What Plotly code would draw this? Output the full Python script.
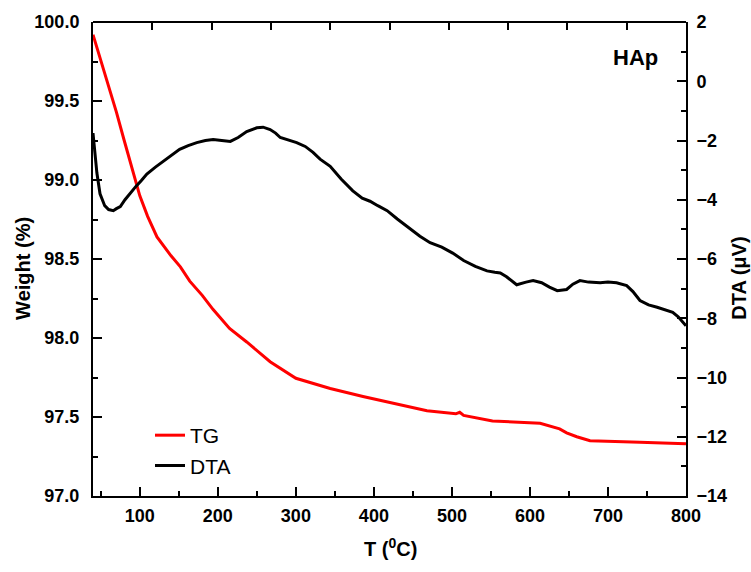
import plotly.graph_objects as go

# TG data (weight %)
tg_t = [40, 50, 60, 66, 70, 80, 90, 96, 100, 110, 122, 140, 152, 164, 180, 194, 215, 237,
        267, 300, 344, 386, 424, 468, 505, 510, 515, 552, 613, 620, 638, 647, 660, 677,
        700, 741, 770, 800]
tg_w = [99.92, 99.76, 99.60, 99.50, 99.43, 99.25, 99.07, 98.96, 98.90, 98.77, 98.64, 98.52,
        98.45, 98.36, 98.27, 98.18, 98.06, 97.975, 97.85, 97.745, 97.68, 97.63, 97.59,
        97.54, 97.52, 97.53, 97.51, 97.475, 97.46, 97.45, 97.425, 97.40, 97.375, 97.35,
        97.345, 97.34, 97.335, 97.33]

# DTA data (uV)
dta_t = [40, 42, 45, 49, 55, 60, 66, 70, 75, 81, 87, 95, 102, 109, 120, 130, 140, 151, 162,
         173, 184, 194, 205, 216, 226, 237, 250, 258, 267, 274, 280, 290, 301, 312, 322,
         331, 344, 358, 373, 385, 395, 405, 417, 430, 445, 459, 472, 487, 501, 515, 530,
         545, 555, 562, 570, 583, 595, 604, 615, 625, 635, 647, 655, 664, 675, 690, 700,
         711, 724, 732, 741, 752, 763, 773, 783, 790, 796, 800]
dta_v = [-1.75, -2.4, -3.1, -3.8, -4.2, -4.33, -4.37, -4.30, -4.23, -4.0, -3.8, -3.55, -3.35,
         -3.13, -2.9, -2.7, -2.5, -2.3, -2.17, -2.07, -2.0, -1.97, -2.0, -2.03, -1.9, -1.7,
         -1.57, -1.55, -1.63, -1.75, -1.9, -1.98, -2.07, -2.2, -2.4, -2.63, -2.87, -3.3,
         -3.7, -3.95, -4.05, -4.2, -4.37, -4.65, -4.95, -5.23, -5.45, -5.6, -5.8, -6.05,
         -6.25, -6.4, -6.45, -6.47, -6.6, -6.87, -6.78, -6.73, -6.8, -6.95, -7.07, -7.03,
         -6.85, -6.73, -6.78, -6.8, -6.78, -6.8, -6.9, -7.1, -7.4, -7.55, -7.63, -7.72,
         -7.8, -7.95, -8.13, -8.25]

x_ticks = [100, 200, 300, 400, 500, 600, 700, 800]
top_ticks = [1, 2, 3, 4, 5, 6, 7, 8, 9]
w_ticks = [97.0, 97.5, 98.0, 98.5, 99.0, 99.5, 100.0]
d_ticks = [2, 0, -2, -4, -6, -8, -10, -12, -14]

FONT = "Arial, Liberation Sans, sans-serif"
W, H = 751, 572
L, R, T, B = 93, 686, 16, 496

fig = go.Figure()
fig.add_trace(go.Scatter(x=dta_t, y=dta_v, name="DTA", yaxis="y2", mode="lines",
                         line=dict(color="black", width=3), legendrank=2))
fig.add_trace(go.Scatter(x=tg_t, y=tg_w, name="TG", mode="lines",
                         line=dict(color="#ff0000", width=3), legendrank=1))
# trace on top axis (time-like scale) so that its ticks are drawn
fig.add_trace(go.Scatter(x=top_ticks, y=[97.0] * len(top_ticks), xaxis="x2", yaxis="y",
                         mode="markers", marker=dict(size=1, color="rgba(0,0,0,0)"),
                         showlegend=False, hoverinfo="skip"))

tickfont = dict(family=FONT, size=18, color="black", weight="bold")
axcommon = dict(showline=True, linewidth=2, linecolor="black", ticks="inside",
                ticklen=9, tickwidth=2, tickcolor="black", showgrid=False,
                zeroline=False, tickfont=tickfont)

fig.update_layout(
    width=W, height=H,
    margin=dict(l=L, r=W - R, t=T, b=H - B),
    paper_bgcolor="white", plot_bgcolor="white",
    xaxis=dict(range=[40, 800], tickvals=x_ticks, ticklabelstandoff=2,
               minor=dict(dtick=50, tick0=0, ticks="inside", ticklen=5, tickwidth=2,
                          tickcolor="black"),
               **axcommon),
    xaxis2=dict(range=[0, 10], overlaying="x", anchor="free", position=1, side="top",
                tickmode="array", tickvals=top_ticks, ticktext=[""] * len(top_ticks),
                showline=True, linewidth=2, layer="above traces",
                linecolor="black", ticks="inside", ticklen=7, tickwidth=2,
                tickcolor="black", showgrid=False, zeroline=False),
    yaxis=dict(range=[97, 100], tickvals=w_ticks, tickformat=".1f", ticklabelstandoff=8,
               minor=dict(dtick=0.25, tick0=97, ticks="inside", ticklen=5, tickwidth=2,
                          tickcolor="black"),
               **axcommon),
    yaxis2=dict(range=[-14, 2], overlaying="y", side="right", tickvals=d_ticks,
                ticklabelstandoff=5,
                minor=dict(dtick=1, tick0=0, ticks="inside", ticklen=5, tickwidth=2,
                           tickcolor="black"),
                **axcommon),
    legend=dict(x=(150 - L) / (R - L), y=(B - 414) / (B - T), xanchor="left",
                yanchor="top", bgcolor="rgba(0,0,0,0)",
                font=dict(family=FONT, size=21, color="black"), tracegroupgap=0),
    showlegend=True,
)

ann_font = dict(family=FONT, size=20, color="black", weight="bold")
fig.add_annotation(text="Weight (%)", xref="paper", yref="paper",
                   x=(23 - L) / (R - L), y=(B - 266) / (B - T), textangle=-90,
                   showarrow=False, font=ann_font, xanchor="center", yanchor="middle")
fig.add_annotation(text="DTA (μV)", xref="paper", yref="paper",
                   x=(739 - L) / (R - L), y=(B - 276) / (B - T), textangle=-90,
                   showarrow=False, font=ann_font, xanchor="center", yanchor="middle")
fig.add_annotation(text="T (<sup>0</sup>C)", xref="paper", yref="paper",
                   x=(390 - L) / (R - L), y=(B - 548) / (B - T),
                   showarrow=False, font=ann_font, xanchor="center", yanchor="middle")
fig.add_annotation(text="HAp", xref="paper", yref="paper",
                   x=(635 - L) / (R - L), y=(B - 52) / (B - T),
                   showarrow=False, font=dict(family=FONT, size=22, color="black",
                                              weight="bold"),
                   xanchor="center", yanchor="middle")

fig.write_html("out.html", config={"displayModeBar": False},
               post_script="document.body.style.margin='0';")
